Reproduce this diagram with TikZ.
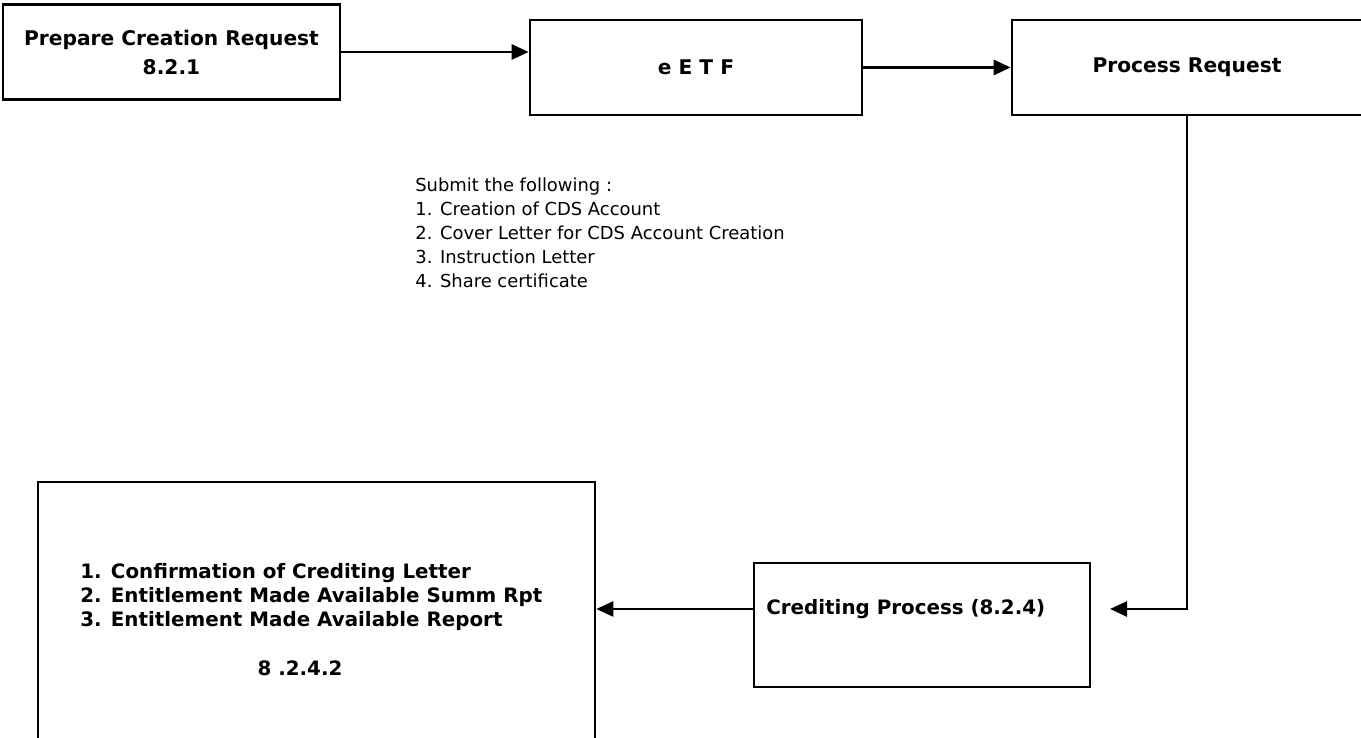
\documentclass[tikz,border=0pt]{standalone}
\usepackage{fontspec}
\setmainfont{DejaVu Sans}
\usetikzlibrary{positioning, arrows.meta}
\tikzset{
  blk/.style={draw, line width=1.5pt, inner sep=0pt, align=center, font=\bfseries\fontsize{11.5}{16.5}\selectfont},
  boldtxt/.style={inner sep=0pt, align=left, font=\bfseries\fontsize{11.3}{13.7}\selectfont},
  flow/.style={line width=1.5pt, -{Triangle[length=0.34cm, width=0.3cm]}},
  plaintxt/.style={inner sep=0pt, align=left, font=\fontsize{10.2}{13.7}\selectfont}
}
\begin{document}
\begin{tikzpicture}
\clip (0,0) rectangle (27.22,14.76);
	% top row
\node [blk, minimum width=6.74cm, minimum height=1.9cm] (prep) at (3.43,13.72) {Prepare Creation Request\\8.2.1};
\node [blk, minimum width=6.64cm, minimum height=1.9cm] (etf) at (13.92,13.41) {e E T F};
\node [blk, minimum width=7.0cm, minimum height=1.9cm] (proc) at (23.74,13.41) {Process Request};
\node [plaintxt, anchor=north west] (docs) at (8.3,11.21) {Submit the following :\\1. Creation of CDS Account\\2. Cover Letter for CDS Account Creation\\3. Instruction Letter\\4. Share certificate};
\draw [flow] (prep.east) -- (prep.east -| etf.west);
\draw [flow] (etf) -- (proc);

	% bottom row
\node [blk, minimum width=11.14cm, minimum height=5.8cm] (outp) at (6.33,2.22) {};
\node [boldtxt, anchor=west] (outlist) at (1.6,2.82) {1. Confirmation of Crediting Letter\\2. Entitlement Made Available Summ Rpt\\3. Entitlement Made Available Report};
\node [boldtxt] (outref) at (6.0,1.4) {8 .2.4.2};
\node [blk, minimum width=6.72cm, minimum height=2.48cm] (cred) at (18.44,2.26) {};
\node [boldtxt, anchor=west] (credtxt) at (15.32,2.58) {Crediting Process (8.2.4)};
\coordinate (credin) at (22.2,2.58);
\draw [flow] (proc.south) |- (credin);
\draw [flow] (cred.west |- credtxt) -- (outp.east |- credtxt);
\end{tikzpicture}
\end{document}
